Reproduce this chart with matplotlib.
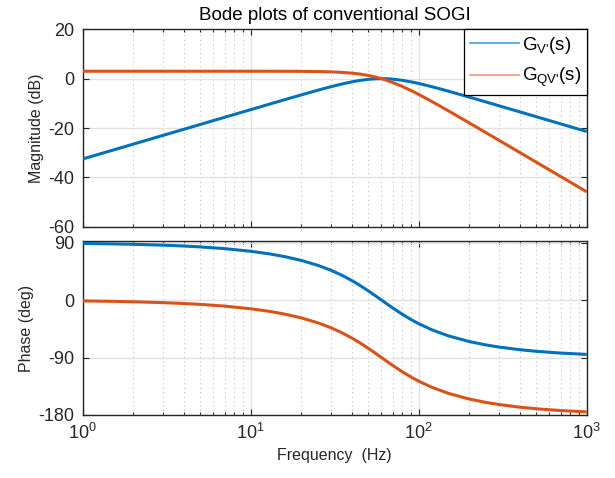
import matplotlib
matplotlib.use("Agg")
import matplotlib.pyplot as plt
from matplotlib.lines import Line2D
from matplotlib.ticker import LogLocator, FixedLocator, NullFormatter

plt.rcParams['font.family'] = ['Liberation Sans', 'DejaVu Sans']
plt.rcParams['mathtext.fontset'] = 'custom'
plt.rcParams['mathtext.rm'] = 'Liberation Sans'
plt.rcParams['mathtext.it'] = 'Liberation Sans'
plt.rcParams['mathtext.bf'] = 'Liberation Sans:bold'
plt.rcParams['axes.unicode_minus'] = False

# ---- data ----
freq_hz = [1, 1.5, 2, 3, 4, 5, 7, 10, 13, 16, 20, 25, 30, 35, 40, 45, 50, 55, 60,
           65, 70, 80, 90, 100, 120, 150, 200, 250, 300, 400, 500, 700, 1000]

gv_mag_db = [-32.55, -29.03, -26.53, -23.01, -20.51, -18.57, -15.65, -12.56, -10.28,
             -8.49, -6.59, -4.72, -3.27, -2.15, -1.29, -0.68, -0.28, -0.07, 0.00,
             -0.05, -0.20, -0.68, -1.30, -1.95, -3.27, -5.06, -7.48, -9.40, -10.98,
             -13.47, -15.41, -18.33, -21.43]

gqv_mag_db = [3.01, 3.01, 3.01, 3.01, 3.01, 3.01, 3.01, 3.01, 3.00, 2.99, 2.96, 2.88,
              2.75, 2.53, 2.23, 1.82, 1.30, 0.69, 0.00, -0.75, -1.54, -3.18, -4.82,
              -6.39, -9.29, -13.02, -17.94, -21.80, -24.96, -29.95, -33.82, -39.67,
              -45.86]

gv_phase_deg = [88.65, 87.97, 87.30, 85.95, 84.59, 83.23, 80.50, 76.37, 72.18, 67.90,
                62.06, 54.51, 46.69, 38.65, 30.51, 22.41, 14.53, 7.02, 0.00, -6.47,
                -12.35, -22.41, -30.51, -37.03, -46.69, -56.04, -65.00, -70.19,
                -73.58, -77.76, -80.23, -83.04, -85.13]

gqv_phase_deg = [-1.35, -2.03, -2.70, -4.05, -5.41, -6.77, -9.50, -13.63, -17.82,
                 -22.10, -27.94, -35.49, -43.31, -51.35, -59.49, -67.59, -75.47,
                 -82.98, -90.00, -96.47, -102.35, -112.41, -120.51, -127.03, -136.69,
                 -146.04, -155.00, -160.19, -163.58, -167.76, -170.23, -173.04,
                 -175.13]

series_labels = [r"G$_{\text{V'}}$(s)", r"G$_{\text{QV'}}$(s)"]
mag_ticks = [-60, -40, -20, 0, 20]
phase_ticks = [-180, -90, 0, 90]
x_ticks = [1, 10, 100, 1000]
x_ticklabels = [r"10$^{0}$", r"10$^{1}$", r"10$^{2}$", r"10$^{3}$"]

BLUE = '#0072BD'
ORANGE = '#D95319'
AXC = '#262626'

fig = plt.figure(figsize=(6.15, 4.78), dpi=100)
ax1 = fig.add_axes([0.1345, 0.5257, 0.8195, 0.413])
ax2 = fig.add_axes([0.1345, 0.1318, 0.8195, 0.3634])

ax1.plot(freq_hz, gv_mag_db, color=BLUE, lw=2.2, solid_capstyle='butt', zorder=3)
ax1.plot(freq_hz, gqv_mag_db, color=ORANGE, lw=2.2, solid_capstyle='butt', zorder=3)
ax2.plot(freq_hz, gv_phase_deg, color=BLUE, lw=2.2, solid_capstyle='butt', zorder=3)
ax2.plot(freq_hz, gqv_phase_deg, color=ORANGE, lw=2.2, solid_capstyle='butt', zorder=3)

for ax in (ax1, ax2):
    ax.set_xscale('log')
    ax.set_xlim(1, 1000)
    ax.xaxis.set_major_locator(FixedLocator(x_ticks))
    ax.xaxis.set_minor_locator(LogLocator(base=10, subs=range(2, 10), numticks=20))
    ax.xaxis.set_minor_formatter(NullFormatter())
    ax.grid(True, which='major', color='#e3e3e3', lw=1.0, ls='-', zorder=0)
    ax.grid(True, which='minor', axis='x', color='#c4c4c4', lw=0.8, ls=(0, (1, 3)), zorder=0)
    ax.tick_params(which='both', direction='in', top=True, right=True, colors=AXC,
                   labelsize=13, width=0.8)
    ax.tick_params(which='major', length=4, pad=6)
    ax.tick_params(which='minor', length=2.5)
    ax.tick_params(axis='y', which='minor', left=False, right=False)
    for s in ax.spines.values():
        s.set_color(AXC)
        s.set_linewidth(1.0)
    ax.set_axisbelow(True)

ax1.set_ylim(-60, 20)
ax1.set_yticks(mag_ticks)
ax1.set_yticklabels([str(t) for t in mag_ticks])
ax1.tick_params(axis='x', labelbottom=False)
ax1.set_ylabel('Magnitude (dB)', fontsize=11.5, color=AXC, labelpad=3)
ax1.set_title('Bode plots of conventional SOGI', fontsize=13.5, color='black', pad=7)

ax2.set_ylim(-180, 92)
ax2.set_yticks(phase_ticks)
ax2.set_yticklabels([str(t) for t in phase_ticks])
ax2.set_xticklabels(x_ticklabels)
ax2.set_ylabel('Phase (deg)', fontsize=11.5, color=AXC, labelpad=3)
ax2.set_xlabel('Frequency  (Hz)', fontsize=11.5, color=AXC, labelpad=3)

handles = [Line2D([], [], color='#4a9fd8', lw=1.2),
           Line2D([], [], color='#ec9a7c', lw=1.2)]
leg = ax1.legend(handles, series_labels, loc='upper right', fontsize=13.5,
                 frameon=True, fancybox=False, edgecolor='black', framealpha=1,
                 borderaxespad=0, handlelength=2.6, handletextpad=0.15,
                 borderpad=0.3, labelspacing=0.55)
leg.get_frame().set_linewidth(0.9)

fig.savefig('out.png', dpi=100)
